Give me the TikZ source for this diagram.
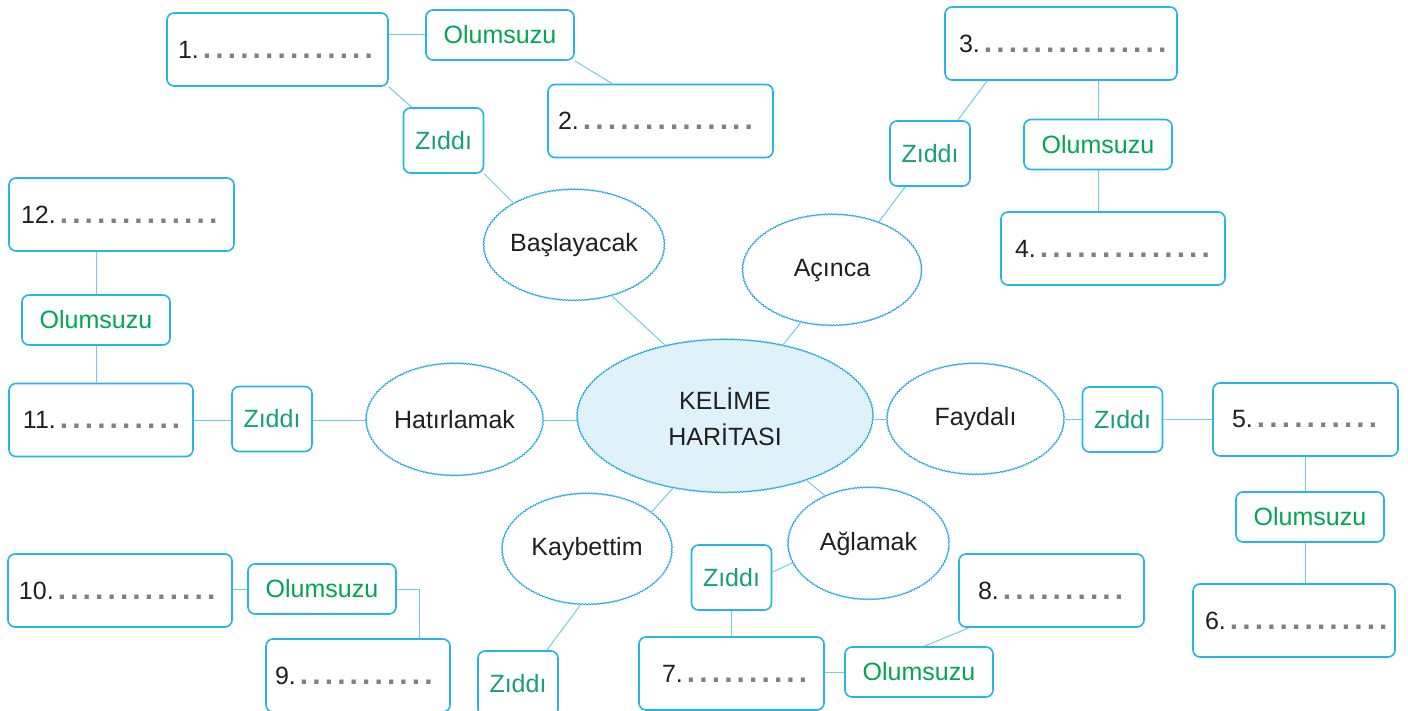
\documentclass[tikz,border=0pt]{standalone}
\usepackage{fontspec}
\setmainfont{Liberation Sans}
\usetikzlibrary{shapes.geometric,decorations.pathmorphing,calc}
\definecolor{boxcol}{RGB}{39,180,233}
\definecolor{linecol}{RGB}{115,202,240}
\definecolor{ellcol}{RGB}{42,172,228}
\definecolor{kelfill}{RGB}{223,242,250}
\definecolor{txtcol}{RGB}{35,31,32}
\definecolor{olmcol}{RGB}{0,166,81}
\definecolor{zidcol}{RGB}{22,160,120}
\definecolor{dotgray}{RGB}{128,128,128}
\newcount\dotcnt
\newcommand\ans[2]{#1.\textcolor{dotgray}{\bfseries\fontsize{30}{30}\selectfont\dotcnt=0 \loop\ifnum\dotcnt<#2 \kern4.1pt.\advance\dotcnt by 1 \repeat}}
\tikzset{
  ansbox/.style={draw=boxcol, line width=1.6pt, rounded corners=7pt, fill=white,
    minimum height=73pt, inner ysep=0pt, text=txtcol, font=\fontsize{25}{30}\selectfont},
  olm/.style={draw=boxcol, line width=1.6pt, rounded corners=7pt, fill=white,
    minimum width=148pt, minimum height=50pt, inner sep=0pt, text=olmcol, font=\fontsize{25}{30}\selectfont},
  zid/.style={draw=boxcol, line width=1.6pt, rounded corners=7pt, fill=white,
    minimum width=80pt, minimum height=65pt, inner sep=0pt, text=zidcol, font=\fontsize{25}{30}\selectfont},
  wordell/.style={ellipse, draw=ellcol, line width=1pt, fill=white, inner sep=0pt,
    decorate, decoration={snake, amplitude=0.5pt, segment length=3pt},
    text=txtcol, font=\fontsize{25}{30}\selectfont},
  conn/.style={draw=linecol, line width=1pt},
}
\begin{document}
\begin{tikzpicture}[x=1pt,y=-1pt]
\useasboundingbox (0,0) rectangle (1408,711);
\clip (0,0) rectangle (1408,711);
\fill[white] (0,0) rectangle (1408,711);

% central and word ellipses
\node[wordell, fill=kelfill, minimum width=296pt, minimum height=153pt, align=center,
  font=\fontsize{25}{36}\selectfont] (kel) at (725,416.5) {KELİME\\HARİTASI};
\node[wordell, minimum width=178pt, minimum height=111pt] (bas) at (574,245.5) {Başlayacak};
\node[wordell, minimum width=179pt, minimum height=111pt] (aci) at (832,270.5) {Açınca};
\node[wordell, minimum width=177pt, minimum height=112pt] (hat) at (454.5,420) {Hatırlamak};
\node[wordell, minimum width=177pt, minimum height=111pt] (fay) at (975.5,419.5) {Faydalı};
\node[wordell, minimum width=170pt, minimum height=111pt] (kay) at (587,549.5) {Kaybettim};
\node[wordell, minimum width=161pt, minimum height=112pt] (agl) at (868.5,544) {Ağlamak};

% answer boxes
\node[ansbox, inner xsep=11pt] (b1) at (277.5,49.5) {\makebox[199pt][l]{\ans{1}{14}}};
\node[ansbox, inner xsep=10pt] (b2) at (660.5,121) {\makebox[205pt][l]{\ans{2}{14}}};
\node[ansbox, inner xsep=14pt] (b3) at (1061,43.5) {\makebox[204pt][l]{\ans{3}{15}}};
\node[ansbox, inner xsep=14pt] (b4) at (1113,248.5) {\makebox[196pt][l]{\ans{4}{14}}};
\node[ansbox, inner xsep=19pt] (b5) at (1305.5,419.5) {\makebox[147pt][l]{\ans{5}{10}}};
\node[ansbox, inner xsep=12pt] (b6) at (1294,620.5) {\makebox[178pt][l]{\ans{6}{13}}};
\node[ansbox, inner xsep=23pt] (b7) at (731.5,673.5) {\makebox[139pt][l]{\ans{7}{10}}};
\node[ansbox, inner xsep=19pt] (b8) at (1051.5,590.5) {\makebox[147pt][l]{\ans{8}{10}}};
\node[ansbox, inner xsep=9pt] (b9) at (358,675.5) {\makebox[166pt][l]{\ans{9}{11}}};
\node[ansbox, inner xsep=11pt] (b10) at (120,590.5) {\makebox[202pt][l]{\ans{10}{13}}};
\node[ansbox, inner xsep=14pt] (b11) at (101,420) {\makebox[156pt][l]{\ans{11}{10}}};
\node[ansbox, inner xsep=12pt] (b12) at (121.5,214.5) {\makebox[201pt][l]{\ans{12}{13}}};

% Olumsuzu boxes
\node[olm] (o1) at (500,35) {Olumsuzu};
\node[olm] (o2) at (1098,144.5) {Olumsuzu};
\node[olm] (o3) at (96,320) {Olumsuzu};
\node[olm] (o4) at (1310,517) {Olumsuzu};
\node[olm] (o5) at (322,589) {Olumsuzu};
\node[olm] (o6) at (919,672) {Olumsuzu};

% Zıddı boxes
\node[zid] (z1) at (443.5,140.5) {Zıddı};
\node[zid] (z2) at (930,153.5) {Zıddı};
\node[zid] (z3) at (272,419) {Zıddı};
\node[zid] (z4) at (1122.5,419.5) {Zıddı};
\node[zid] (z5) at (518,683.5) {Zıddı};
\node[zid] (z6) at (731.5,577.5) {Zıddı};

% connectors
\draw[conn] (o1.west) -- (o1.west -| b1.east);
\draw[conn] (o1.south east) -- ($(b2.north west)+(65,0)$);
\draw[conn] (b1.south east) -- ($(z1.north west)+(9,0)$);
\draw[conn] (z1.south east) -- (bas.145);
\draw[conn] (bas.-53) -- (kel.130);
\draw[conn] (aci.-121) -- (kel.51);
\draw[conn] (aci.46) -- ($(z2.south west)+(16,0)$);
\draw[conn] ($(z2.north east)+(-13,0)$) -- ($(b3.south west)+(43,0)$);
\draw[conn] (o2.north) -- (o2.north |- b3.south);
\draw[conn] (o2.south) -- (o2.south |- b4.north);
\draw[conn] (o3.north) -- (o3.north |- b12.south);
\draw[conn] (o3.south) -- (o3.south |- b11.north);
\draw[conn] (b11.east) -- (b11.east -| z3.west);
\draw[conn] (hat.west) -- (hat.west -| z3.east);
\draw[conn] (hat.east) -- (hat.east -| kel.west);
\draw[conn] (fay.west) -- (fay.west -| kel.east);
\draw[conn] (fay.east) -- (z4.west);
\draw[conn] (z4.east) -- (b5.west);
\draw[conn] (b5.south) -- (b5.south |- o4.north);
\draw[conn] (o4.south -| b5.south) -- (b5.south |- b6.north);
\draw[conn] (kel.-126.5) -- (kay.30);
\draw[conn] (kay.-97) -- ($(z5.north east)+(-12,0)$);
\draw[conn] ($(z5.north west)+(0,36)$) -- ($(z5.north west)+(0,36)$ -| b9.east);
\draw[conn] (o5.east) -| ($(b9.north west)+(154,0)$);
\draw[conn] (o5.west) -- (o5.west -| b10.east);
\draw[conn] (kel.-38) -- (agl.132);
\draw[conn] (agl.194) -- ($(z6.north east)+(0,28)$);
\draw[conn] (z6.south) -- (z6.south |- b7.north);
\draw[conn] (o6.west) -- (o6.west -| b7.east);
\draw[conn] ($(o6.north west)+(80,0)$) -- ($(b8.south west)+(11,0)$);
\end{tikzpicture}
\end{document}
